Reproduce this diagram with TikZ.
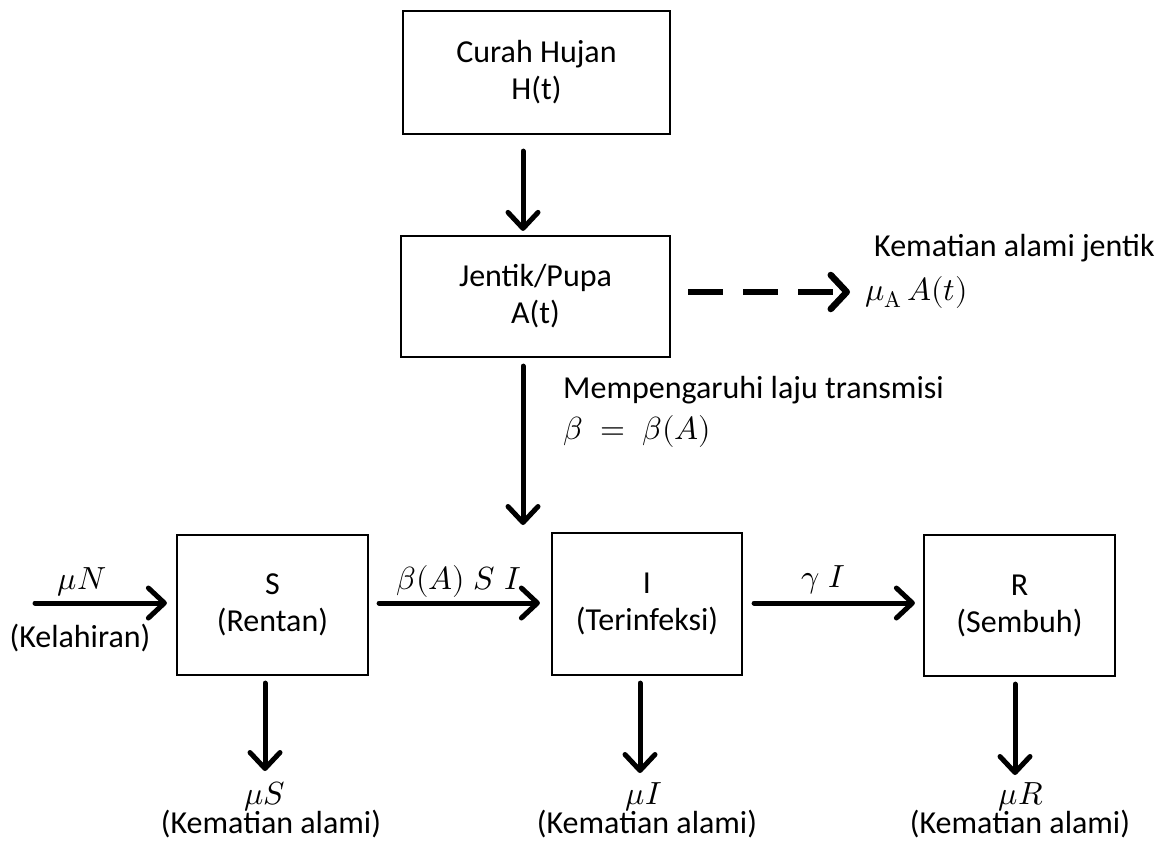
\documentclass[tikz,border=0pt]{standalone}
\usepackage{fontspec}
\usepackage{unicode-math}
\setmainfont{Carlito}
\setmathfont{latinmodern-math.otf}
\usetikzlibrary{arrows.meta,calc}
\begin{document}
\begin{tikzpicture}[x=1pt,y=-1pt,
  every node/.style={font=\fontsize{32}{37}\selectfont},
  box/.style={draw, line width=2.2pt, align=center, inner sep=0pt},
  flow/.style={line width=5pt, line cap=round, -{Straight Barb[length=16pt,width=30pt,round]}},
  dflow/.style={line width=6.5pt, dash pattern=on 35pt off 20pt, -{Straight Barb[length=16pt,width=34pt,round]}},
  lbl/.style={inner sep=0pt, align=center}]
\useasboundingbox (0,0) rectangle (1161,846);
% boxes
\node[box, minimum width=267pt, minimum height=123pt] (curah) at (536.5,72.5) {Curah Hujan\\H(t)};
\node[box, minimum width=269pt, minimum height=121pt] (jentik) at (535.5,296.5) {Jentik/Pupa\\A(t)};
\node[box, minimum width=191pt, minimum height=140pt] (S) at (272.5,605) {S\\(Rentan)};
\node[box, minimum width=190pt, minimum height=142pt] (I) at (647,604) {I\\(Terinfeksi)};
\node[box, minimum width=191pt, minimum height=141pt] (R) at (1019.5,605.5) {R\\(Sembuh)};
% labels
\node[lbl, anchor=west] (kaj) at (874,248) {Kematian alami jentik};
\node[lbl, anchor=west] (muA) at (865,292) {$\mu_{\symup{A}}\,A(t)$};
\node[lbl, anchor=west] (mlt) at (563,390) {Mempengaruhi laju transmisi};
\node[lbl, anchor=west] (bet) at (563,431) {$\beta\;=\;\beta(A)$};
\node[lbl] (muN) at (82,582) {$\mu N$};
\node[lbl] (kel) at (80,638) {(Kelahiran)};
\node[lbl] (bSI) at (459,581) {$\beta(A)\;S\;I$};
\node[lbl] (gI) at (823,580) {$\gamma\;I$};
\node[lbl] (muS) at (265,797) {$\mu S$};
\node[lbl] (kS) at (271,824) {(Kematian alami)};
\node[lbl] (muI) at (644,797) {$\mu I$};
\node[lbl] (kI) at (647,824) {(Kematian alami)};
\node[lbl] (muR) at (1021,797) {$\mu R$};
\node[lbl] (kR) at (1020,824) {(Kematian alami)};
% free ends
\coordinate (birth) at (35,603);
\coordinate (axC) at (523,0);
\coordinate (tipB) at (523,525);
\coordinate (tipD) at (850,292);
\coordinate (tS) at (265,771);
\coordinate (tI) at (640,773);
\coordinate (tR) at (1015,775);
% connectors
\draw[flow, shorten <=16pt, shorten >=4pt] (curah.south -| axC) -- (jentik.north -| axC);
\draw[dflow, shorten <=17pt] (jentik.east |- tipD) -- (tipD);
\draw[flow, shorten <=8pt] (jentik.south -| tipB) -- (tipB);
\draw[flow, shorten >=9pt] (birth) -- (S.west |- birth);
\draw[flow, shorten <=10pt, shorten >=11pt] (S.east |- birth) -- (I.west |- birth);
\draw[flow, shorten <=11pt, shorten >=8pt] (I.east |- birth) -- (R.west |- birth);
\draw[flow, shorten <=7pt] (S.south -| tS) -- (tS);
\draw[flow, shorten <=7pt] (I.south -| tI) -- (tI);
\draw[flow, shorten <=7pt] (R.south -| tR) -- (tR);
\end{tikzpicture}
\end{document}
